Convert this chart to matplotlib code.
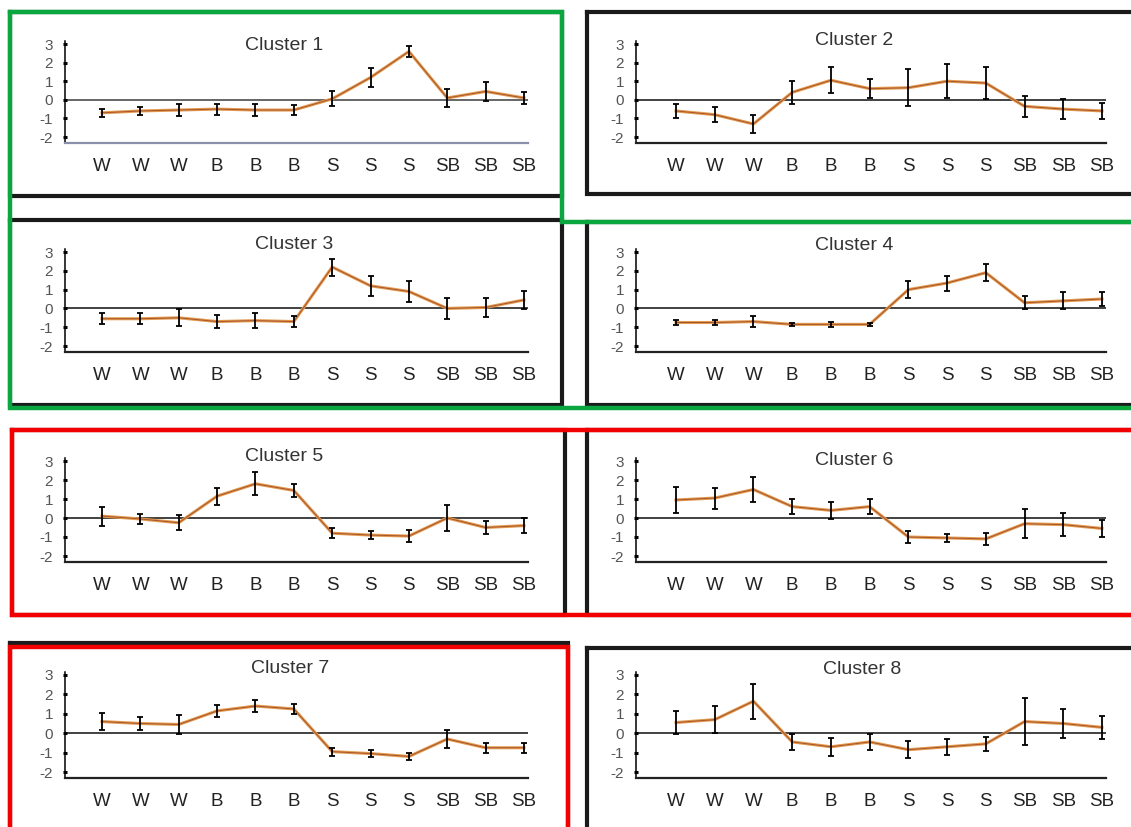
import numpy as np
import matplotlib
matplotlib.use("Agg")
import matplotlib.pyplot as plt

plt.rcParams['font.family'] = ['Liberation Sans', 'DejaVu Sans']
plt.rcParams['axes.unicode_minus'] = False

seasons = ['W', 'W', 'W', 'B', 'B', 'B', 'S', 'S', 'S', 'SB', 'SB', 'SB']
titles = ['Cluster 1', 'Cluster 2', 'Cluster 3', 'Cluster 4',
          'Cluster 5', 'Cluster 6', 'Cluster 7', 'Cluster 8']

c1_mean = [-0.7, -0.6, -0.55, -0.5, -0.55, -0.55, 0.05, 1.2, 2.6, 0.1, 0.45, 0.1]
c1_err = [0.2, 0.2, 0.3, 0.3, 0.3, 0.25, 0.4, 0.5, 0.3, 0.5, 0.5, 0.3]
c2_mean = [-0.6, -0.8, -1.3, 0.4, 1.05, 0.6, 0.65, 1.0, 0.9, -0.35, -0.5, -0.6]
c2_err = [0.4, 0.4, 0.5, 0.6, 0.7, 0.5, 1.0, 0.9, 0.85, 0.55, 0.55, 0.45]
c3_mean = [-0.55, -0.55, -0.5, -0.7, -0.65, -0.7, 2.2, 1.2, 0.9, 0.0, 0.05, 0.45]
c3_err = [0.3, 0.3, 0.45, 0.35, 0.4, 0.3, 0.45, 0.55, 0.55, 0.55, 0.5, 0.5]
c4_mean = [-0.75, -0.75, -0.7, -0.85, -0.85, -0.85, 1.0, 1.35, 1.9, 0.3, 0.4, 0.5]
c4_err = [0.15, 0.15, 0.3, 0.1, 0.15, 0.1, 0.45, 0.4, 0.45, 0.35, 0.45, 0.35]
c5_mean = [0.1, -0.05, -0.25, 1.15, 1.8, 1.45, -0.8, -0.9, -0.95, 0.0, -0.5, -0.4]
c5_err = [0.5, 0.25, 0.4, 0.45, 0.6, 0.35, 0.25, 0.2, 0.3, 0.7, 0.35, 0.4]
c6_mean = [0.95, 1.05, 1.5, 0.6, 0.4, 0.6, -1.0, -1.05, -1.1, -0.3, -0.35, -0.55]
c6_err = [0.7, 0.55, 0.65, 0.4, 0.45, 0.4, 0.3, 0.2, 0.3, 0.75, 0.6, 0.45]
c7_mean = [0.6, 0.5, 0.45, 1.15, 1.4, 1.25, -0.95, -1.05, -1.2, -0.3, -0.75, -0.75]
c7_err = [0.45, 0.35, 0.5, 0.3, 0.3, 0.25, 0.2, 0.2, 0.2, 0.45, 0.25, 0.25]
c8_mean = [0.55, 0.7, 1.65, -0.45, -0.7, -0.45, -0.85, -0.7, -0.55, 0.6, 0.5, 0.3]
c8_err = [0.6, 0.7, 0.9, 0.4, 0.45, 0.4, 0.45, 0.4, 0.35, 1.2, 0.75, 0.6]

means = [c1_mean, c2_mean, c3_mean, c4_mean, c5_mean, c6_mean, c7_mean, c8_mean]
errs = [c1_err, c2_err, c3_err, c4_err, c5_err, c6_err, c7_err, c8_err]

W, H = 1131, 827
fig = plt.figure(figsize=(W / 100, H / 100), dpi=100)

# layout in pixels: columns (y-axis x, first point x, last point x), rows (y of 3, y of -2)
cols = [(65, 102, 524), (636, 676, 1102)]
rows = [(44, 137), (252, 346), (461, 556), (675, 772)]
title_pos = [(4.75, 2.9), (4.6, 3.2), (5.0, 3.4), (4.6, 3.35),
             (4.75, 3.25), (4.6, 3.05), (4.9, 3.35), (4.8, 3.3)]

line_col = '#e39a4e'
x = np.arange(len(seasons))

for k in range(8):
    xa, x0, x11 = cols[k % 2]
    y3, ym2 = rows[k // 2]
    sp = (x11 - x0) / 11
    unit = (ym2 - y3) / 5
    ymin, ymax = -2.3, 3.15
    xmin, xmax = (xa - x0) / sp, 11.1
    left = xa
    right = x0 + xmax * sp
    top = y3 - (ymax - 3) * unit
    bottom = ym2 + (-2 - ymin) * unit
    ax = fig.add_axes([left / W, 1 - bottom / H, (right - left) / W, (bottom - top) / H])
    ax.set_xlim(xmin, xmax)
    ax.set_ylim(ymin, ymax)
    ax.patch.set_visible(False)

    zero_col = '#5a5a5a' if k == 0 else '#333333'
    ax.axhline(0, color=zero_col, lw=1.3, zorder=1)
    ax.errorbar(x, means[k], yerr=errs[k], fmt='none', ecolor='black',
                elinewidth=1.3, capsize=2.4, capthick=1.3, zorder=3)
    ax.plot(x, means[k], color=line_col, lw=2.2, zorder=2)
    ax.plot(x, means[k], color='#a8552c', lw=0.7, zorder=2.5)

    for s in ['top', 'right']:
        ax.spines[s].set_visible(False)
    ax.spines['left'].set_linewidth(1.1)
    ax.spines['bottom'].set_linewidth(1.6)
    ax.spines['bottom'].set_color('#8a90a8' if k == 0 else '#222222')

    ax.set_yticks([3, 2, 1, 0, -1, -2])
    ax.set_yticklabels(['3', '2', '1', '0', '-1', '-2'])
    ax.tick_params(axis='y', direction='inout', length=3, width=2.2,
                   labelsize=11, labelcolor='#555555', pad=7)
    ax.set_xticks(x)
    ax.set_xticklabels(seasons)
    ax.tick_params(axis='x', length=0, labelsize=13.5, labelcolor='#222222', pad=11)

    tx, ty = title_pos[k]
    ax.text(tx, ty, titles[k], ha='center', va='center', fontsize=14,
            color='#333333', clip_on=False)

# frames drawn on an overlay in pixel space
ov = fig.add_axes([0, 0, 1, 1])
ov.set_xlim(0, W)
ov.set_ylim(H, 0)
ov.axis('off')
ov.patch.set_visible(False)

black_boxes = [(10, 12, 562, 196), (587, 12, 1140, 194),
               (10, 220, 562, 405), (587, 222, 1140, 405),
               (12, 430, 565, 615), (587, 430, 1140, 615),
               (10, 643, 568, 840), (587, 648, 1140, 840)]
for l, t, r, b in black_boxes:
    ov.plot([l, r, r, l, l], [t, t, b, b, t], color='#1a1a1a', lw=3, solid_joinstyle='miter')

green = '#0aa640'
ov.plot([1140, 562, 562, 10, 10, 1140], [222, 222, 12, 12, 408, 408], color=green, lw=3.2,
        solid_joinstyle='miter')
red = '#f20000'
ov.plot([1140, 12, 12, 1140], [430, 430, 615, 615], color=red, lw=3.2, solid_joinstyle='miter')
ov.plot([10, 10, 568, 568], [840, 647, 647, 840], color=red, lw=3.2, solid_joinstyle='miter')

fig.savefig('out.png', dpi=100)
